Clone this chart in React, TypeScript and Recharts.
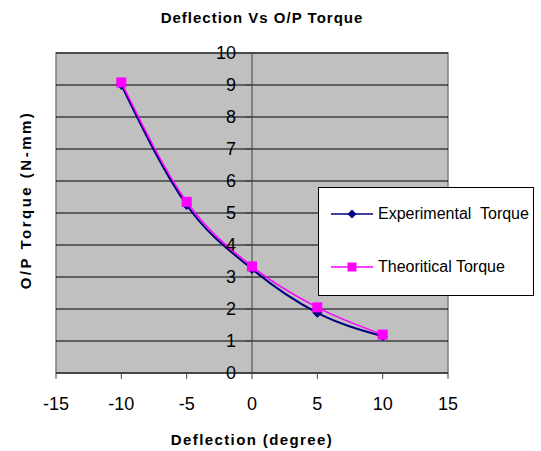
import React from 'react';
import {
  LineChart,
  Line,
  XAxis,
  YAxis,
  CartesianGrid,
  ReferenceLine,
  ReferenceArea,
} from 'recharts';

const deflection = [-10, -5, 0, 5, 10];
const experimental = [9.0, 5.25, 3.25, 1.88, 1.15];
const theoretical = [9.08, 5.35, 3.33, 2.05, 1.2];
const xTicks = [-15, -10, -5, 0, 5, 10, 15];
const yTicks = [0, 1, 2, 3, 4, 5, 6, 7, 8, 9, 10];
const seriesNames = ['Experimental  Torque', 'Theoritical Torque'];

const data = deflection.map((d, i) => ({
  deflection: d,
  exp: experimental[i],
  theo: theoretical[i],
}));

const FONT = '"Liberation Sans", Arial, sans-serif';

const Diamond = (props: any) => {
  const { cx, cy } = props;
  if (cx == null || cy == null) return null;
  return <path d={`M${cx},${cy - 4.5}L${cx + 4.5},${cy}L${cx},${cy + 4.5}L${cx - 4.5},${cy}Z`} fill="#000080" stroke="#000080" />;
};

const Square = (props: any) => {
  const { cx, cy } = props;
  if (cx == null || cy == null) return null;
  return <rect x={cx - 4.5} y={cy - 4.5} width={9} height={9} fill="#FF00FF" stroke="#FF00FF" />;
};

const LegendBox = () => (
  <div
    style={{
      position: 'absolute',
      left: 318,
      top: 187,
      width: 214,
      height: 107,
      border: '1px solid #000',
      background: '#fff',
      fontFamily: FONT,
      fontSize: 16,
      color: '#000',
    }}
  >
    {seriesNames.map((name, i) => (
      <div
        key={name}
        style={{ display: 'flex', alignItems: 'center', position: 'absolute', left: 12, top: i === 0 ? 15 : 68, height: 22 }}
      >
        <svg width={44} height={12}>
          <line x1={0} y1={6} x2={42} y2={6} stroke={i === 0 ? '#000080' : '#FF00FF'} strokeWidth={1.5} />
          {i === 0 ? (
            <path d="M21,1.5L25.5,6L21,10.5L16.5,6Z" fill="#000080" />
          ) : (
            <rect x={16.5} y={1.5} width={9} height={9} fill="#FF00FF" />
          )}
        </svg>
        <span style={{ marginLeft: 3, whiteSpace: 'pre' }}>{name}</span>
      </div>
    ))}
  </div>
);

export default function App() {
  return (
    <div style={{ position: 'absolute', left: 0, top: 0, width: 541, height: 451, background: '#fff', fontFamily: FONT }}>
      <LineChart width={541} height={451} data={data} margin={{ top: 53, right: 93, left: 0, bottom: 0 }}>
        <CartesianGrid vertical={false} horizontal={false} fill="#C0C0C0" />
        {yTicks.map((v) => (
          <ReferenceLine key={`g${v}`} y={v} stroke="#000" strokeWidth={1} />
        ))}
        <ReferenceArea x1={-15} x2={15} y1={0} y2={10} fill="none" stroke="#808080" strokeWidth={1.5} ifOverflow="visible" />
        <XAxis
          type="number"
          dataKey="deflection"
          domain={[-15, 15]}
          ticks={xTicks}
          height={78}
          tickSize={6}
          tickMargin={18}
          stroke="#404040"
          tick={{ fill: '#000', fontSize: 18, fontFamily: FONT }}
          interval={0}
        />
        <YAxis type="number" domain={[0, 10]} ticks={yTicks} width={56} axisLine={false} tick={false} tickLine={false} />
        <ReferenceLine x={0} stroke="#404040" />
        {yTicks.map((v) => (
          <ReferenceLine
            key={v}
            segment={[{ x: -0.45, y: v }, { x: 0, y: v }]}
            stroke="#404040"
            ifOverflow="visible"
            label={{ value: String(v), position: 'left', offset: 10, fill: '#000', fontSize: 18, fontFamily: FONT }}
          />
        ))}
        <Line
          type="monotone"
          dataKey="exp"
          name={seriesNames[0]}
          stroke="#000080"
          strokeWidth={2}
          dot={<Diamond />}
          isAnimationActive={false}
        />
        <Line
          type="monotone"
          dataKey="theo"
          name={seriesNames[1]}
          stroke="#FF00FF"
          strokeWidth={1.5}
          dot={<Square />}
          isAnimationActive={false}
        />
      </LineChart>
      <LegendBox />
      <div
        style={{
          position: 'absolute',
          left: 0,
          width: 524,
          top: 9,
          textAlign: 'center',
          fontWeight: 'bold',
          fontSize: 15,
          letterSpacing: 1,
        }}
      >
        Deflection Vs O/P Torque
      </div>
      <div
        style={{
          position: 'absolute',
          left: 25,
          top: 200,
          transform: 'translate(-50%, -50%) rotate(-90deg)',
          fontWeight: 'bold',
          fontSize: 15,
          whiteSpace: 'nowrap',
          letterSpacing: 2.5,
        }}
      >
        O/P Torque (N-mm)
      </div>
      <div
        style={{
          position: 'absolute',
          left: 0,
          width: 504,
          top: 431,
          textAlign: 'center',
          fontWeight: 'bold',
          fontSize: 15,
          letterSpacing: 1.4,
        }}
      >
        Deflection (degree)
      </div>
    </div>
  );
}
